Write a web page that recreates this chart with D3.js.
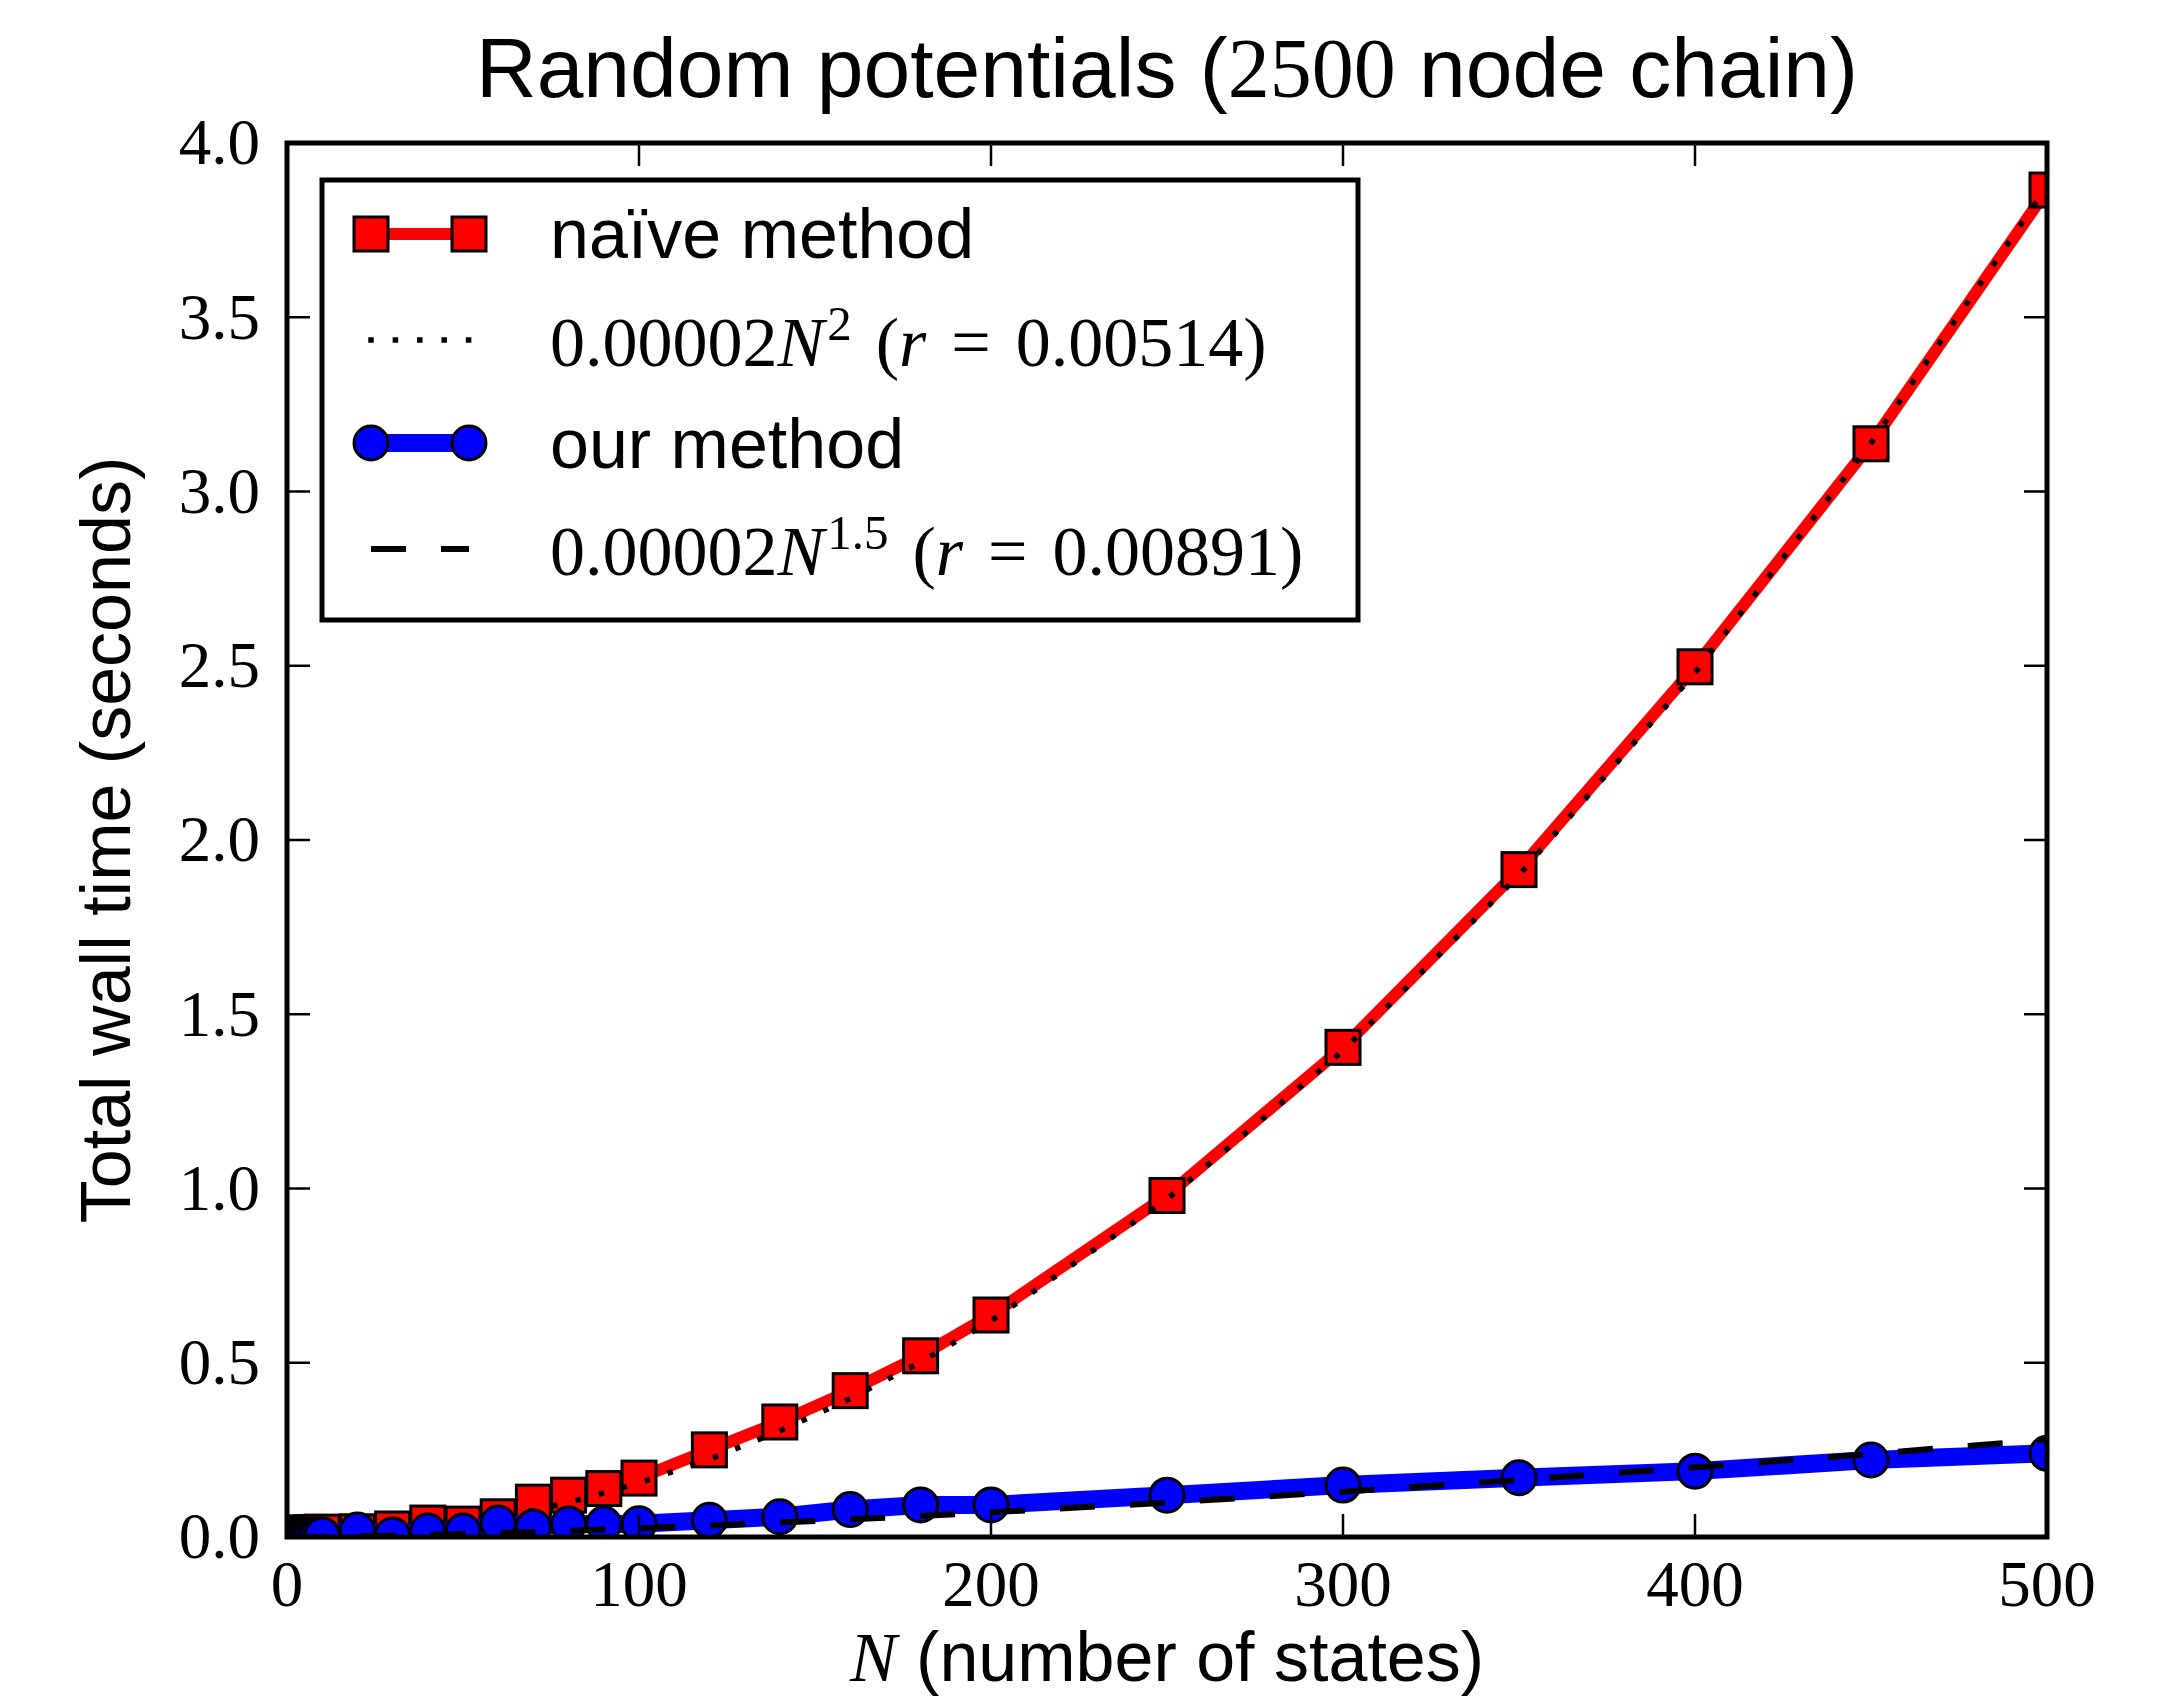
<!DOCTYPE html>
<html>
<head>
<meta charset="utf-8">
<script src="https://cdn.jsdelivr.net/npm/d3@7"></script>
<style>
    body { margin: 0; background: #fff; }
    svg { display: block; }
</style>
</head>
<body>
<svg id="chart" width="2175" height="1700"></svg>
<script>
// number of states
let states = [1, 2, 3, 4, 5, 6, 7, 8, 9, 10, 20, 30, 40, 50, 60, 70, 80, 90, 100,
    120, 140, 160, 180, 200, 250, 300, 350, 400, 450, 500];
// naive method wall time (s)
let naiveTime = [0.010, 0.010, 0.010, 0.011, 0.011, 0.011, 0.012, 0.012, 0.013, 0.014,
    0.015, 0.023, 0.040, 0.037, 0.058, 0.100, 0.120, 0.139, 0.169,
    0.250, 0.330, 0.420, 0.520, 0.637, 0.980, 1.405, 1.915, 2.497, 3.137, 3.865];
// our method wall time (s)
let ourTime = [0.004, 0.004, 0.005, 0.005, 0.005, 0.005, 0.006, 0.006, 0.006, 0.006,
    0.020, 0.006, 0.017, 0.017, 0.040, 0.029, 0.037, 0.037, 0.038,
    0.048, 0.058, 0.079, 0.092, 0.092, 0.120, 0.149, 0.170, 0.189, 0.221, 0.240];
// fitted curves read at the same N
let naiveFit = [0.00002, 0.00006, 0.00014, 0.00025, 0.00039, 0.00056, 0.00076, 0.00099, 0.00126, 0.00155,
    0.0062, 0.0140, 0.0248, 0.0388, 0.0558, 0.0760, 0.0990, 0.126, 0.155,
    0.223, 0.304, 0.397, 0.502, 0.620, 0.969, 1.395, 1.899, 2.480, 3.139, 3.875];
let ourFit = [0.00003, 0.00007, 0.00013, 0.00020, 0.00028, 0.00037, 0.00046, 0.00057, 0.00068, 0.00079,
    0.0022, 0.0041, 0.0063, 0.0088, 0.0116, 0.0146, 0.0179, 0.0213, 0.0250,
    0.0329, 0.0414, 0.0506, 0.0604, 0.0707, 0.0988, 0.1299, 0.1637, 0.2000, 0.2386, 0.2795];

let xTicks = [0, 100, 200, 300, 400, 500];
let yTicks = [0, 0.5, 1, 1.5, 2, 2.5, 3, 3.5, 4];

let sans = "'Liberation Sans', Arial, Helvetica, sans-serif";
let serif = "'Liberation Serif', 'Times New Roman', serif";

let pLeft = 287, pRight = 2047, pTop = 143, pBottom = 1537;
let svg = d3.select("#chart");

let x = d3.scaleLinear().domain([0, 500]).range([pLeft, pRight]);
let y = d3.scaleLinear().domain([0, 4]).range([pBottom, pTop]);

svg.append("defs").append("clipPath").attr("id", "plotclip")
    .append("rect")
    .attr("x", pLeft).attr("y", pTop)
    .attr("width", pRight - pLeft).attr("height", pBottom - pTop);

let plot = svg.append("g").attr("clip-path", "url(#plotclip)");

let line = d3.line()
    .x(function (d) { return x(d[0]); })
    .y(function (d) { return y(d[1]); });

function pairs(vals) {
    return states.map(function (n, i) { return [n, vals[i]]; });
}

// naive: red line + squares
plot.append("path")
    .datum(pairs(naiveTime))
    .attr("d", line)
    .attr("fill", "none")
    .attr("stroke", "#ff0000")
    .attr("stroke-width", 12);
plot.append("g").selectAll("rect")
    .data(pairs(naiveTime))
    .enter().append("rect")
    .attr("x", function (d) { return x(d[0]) - 17; })
    .attr("y", function (d) { return y(d[1]) - 17; })
    .attr("width", 34).attr("height", 34)
    .attr("fill", "#ff0000")
    .attr("stroke", "#000")
    .attr("stroke-width", 3);

// N^2 fit, dotted
plot.append("path")
    .datum(pairs(naiveFit))
    .attr("d", line)
    .attr("fill", "none")
    .attr("stroke", "#000")
    .attr("stroke-width", 5.5)
    .attr("stroke-dasharray", "5.5,18.5");

// our method: blue line + circles
plot.append("path")
    .datum(pairs(ourTime))
    .attr("d", line)
    .attr("fill", "none")
    .attr("stroke", "#0000ff")
    .attr("stroke-width", 18);
plot.append("g").selectAll("circle")
    .data(pairs(ourTime))
    .enter().append("circle")
    .attr("cx", function (d) { return x(d[0]); })
    .attr("cy", function (d) { return y(d[1]); })
    .attr("r", 17)
    .attr("fill", "#0000ff")
    .attr("stroke", "#000")
    .attr("stroke-width", 3);

// N^1.5 fit, dashed
plot.append("path")
    .datum(pairs(ourFit))
    .attr("d", line)
    .attr("fill", "none")
    .attr("stroke", "#000")
    .attr("stroke-width", 6)
    .attr("stroke-dasharray", "35,35");

// ticks (inward, all four sides)
let ticks = svg.append("g").attr("stroke", "#000").attr("stroke-width", 2.5);
xTicks.forEach(function (t) {
    ticks.append("line").attr("x1", x(t)).attr("x2", x(t)).attr("y1", pBottom).attr("y2", pBottom - 23);
    ticks.append("line").attr("x1", x(t)).attr("x2", x(t)).attr("y1", pTop).attr("y2", pTop + 23);
});
yTicks.forEach(function (t) {
    ticks.append("line").attr("x1", pLeft).attr("x2", pLeft + 23).attr("y1", y(t)).attr("y2", y(t));
    ticks.append("line").attr("x1", pRight).attr("x2", pRight - 23).attr("y1", y(t)).attr("y2", y(t));
});

// frame
svg.append("rect")
    .attr("x", pLeft).attr("y", pTop)
    .attr("width", pRight - pLeft).attr("height", pBottom - pTop)
    .attr("fill", "none")
    .attr("stroke", "#000")
    .attr("stroke-width", 5);

// tick labels
svg.append("g").selectAll("text")
    .data(xTicks)
    .enter().append("text")
    .attr("x", function (d) { return x(d); })
    .attr("y", pBottom + 69)
    .attr("text-anchor", "middle")
    .style("font-family", serif)
    .style("font-size", "65px")
    .text(function (d) { return d; });

svg.append("g").selectAll("text")
    .data(yTicks)
    .enter().append("text")
    .attr("x", pLeft - 27)
    .attr("y", function (d) { return y(d); })
    .attr("dy", "0.33em")
    .attr("text-anchor", "end")
    .style("font-family", serif)
    .style("font-size", "65px")
    .text(function (d) { return d3.format(".1f")(d); });

// title
let title = svg.append("text")
    .attr("x", (pLeft + pRight) / 2)
    .attr("y", 97)
    .attr("text-anchor", "middle")
    .style("font-family", sans)
    .style("font-size", "84px");
title.append("tspan").text("Random potentials (");
title.append("tspan").style("font-family", serif).text("2500");
title.append("tspan").text(" node chain)");

// axis labels
let xlab = svg.append("text")
    .attr("x", (pLeft + pRight) / 2)
    .attr("y", 1681)
    .attr("text-anchor", "middle")
    .style("font-family", sans)
    .style("font-size", "70px");
xlab.append("tspan").style("font-family", serif).style("font-style", "italic").text("N");
xlab.append("tspan").text(" (number of states)");

svg.append("text")
    .attr("transform", "translate(130," + ((pTop + pBottom) / 2) + ") rotate(-90)")
    .attr("text-anchor", "middle")
    .style("font-family", sans)
    .style("font-size", "70px")
    .text("Total wall time (seconds)");

// legend
let lg = svg.append("g");
lg.append("rect")
    .attr("x", 322).attr("y", 180)
    .attr("width", 1036).attr("height", 440)
    .attr("fill", "#fff")
    .attr("stroke", "#000")
    .attr("stroke-width", 5);

let hx0 = 371, hx1 = 469, tx = 550;
let rows = [234, 340, 443, 549];

lg.append("line").attr("x1", hx0).attr("x2", hx1).attr("y1", rows[0]).attr("y2", rows[0])
    .attr("stroke", "#ff0000").attr("stroke-width", 12);
[hx0, hx1].forEach(function (hx) {
    lg.append("rect").attr("x", hx - 17).attr("y", rows[0] - 17).attr("width", 34).attr("height", 34)
        .attr("fill", "#ff0000").attr("stroke", "#000").attr("stroke-width", 3);
});
lg.append("line").attr("x1", hx0 - 2.75).attr("x2", hx1 + 2.75).attr("y1", rows[1]).attr("y2", rows[1])
    .attr("stroke", "#000").attr("stroke-width", 5.5).attr("stroke-dasharray", "5.5,18.9");
lg.append("line").attr("x1", hx0).attr("x2", hx1).attr("y1", rows[2]).attr("y2", rows[2])
    .attr("stroke", "#0000ff").attr("stroke-width", 18);
[hx0, hx1].forEach(function (hx) {
    lg.append("circle").attr("cx", hx).attr("cy", rows[2]).attr("r", 17)
        .attr("fill", "#0000ff").attr("stroke", "#000").attr("stroke-width", 3);
});
lg.append("line").attr("x1", hx0).attr("x2", hx1).attr("y1", rows[3]).attr("y2", rows[3])
    .attr("stroke", "#000").attr("stroke-width", 6).attr("stroke-dasharray", "35,35");

lg.append("text").attr("x", tx).attr("y", rows[0] + 24)
    .style("font-family", sans).style("font-size", "70px")
    .text("naïve method");
lg.append("text").attr("x", tx).attr("y", rows[2] + 25)
    .style("font-family", sans).style("font-size", "70px")
    .text("our method");

// math-style legend label: 0.00002N^p (r = ...)
function mathLabel(yb, sup, r) {
    let t = lg.append("text").attr("x", tx).attr("y", yb)
        .style("font-family", serif).style("font-size", "70px");
    t.append("tspan").text("0.00002");
    t.append("tspan").style("font-style", "italic").text("N");
    t.append("tspan").attr("dy", -26).attr("dx", 3).style("font-size", "49px").text(sup);
    t.append("tspan").attr("dy", 26).attr("dx", 24).text("(");
    t.append("tspan").style("font-style", "italic").text("r");
    t.append("tspan").attr("dx", 25).text("=");
    t.append("tspan").attr("dx", 25).text(r + ")");
}
mathLabel(366, "2", "0.00514");
mathLabel(575, "1.5", "0.00891");
</script>
</body>
</html>
